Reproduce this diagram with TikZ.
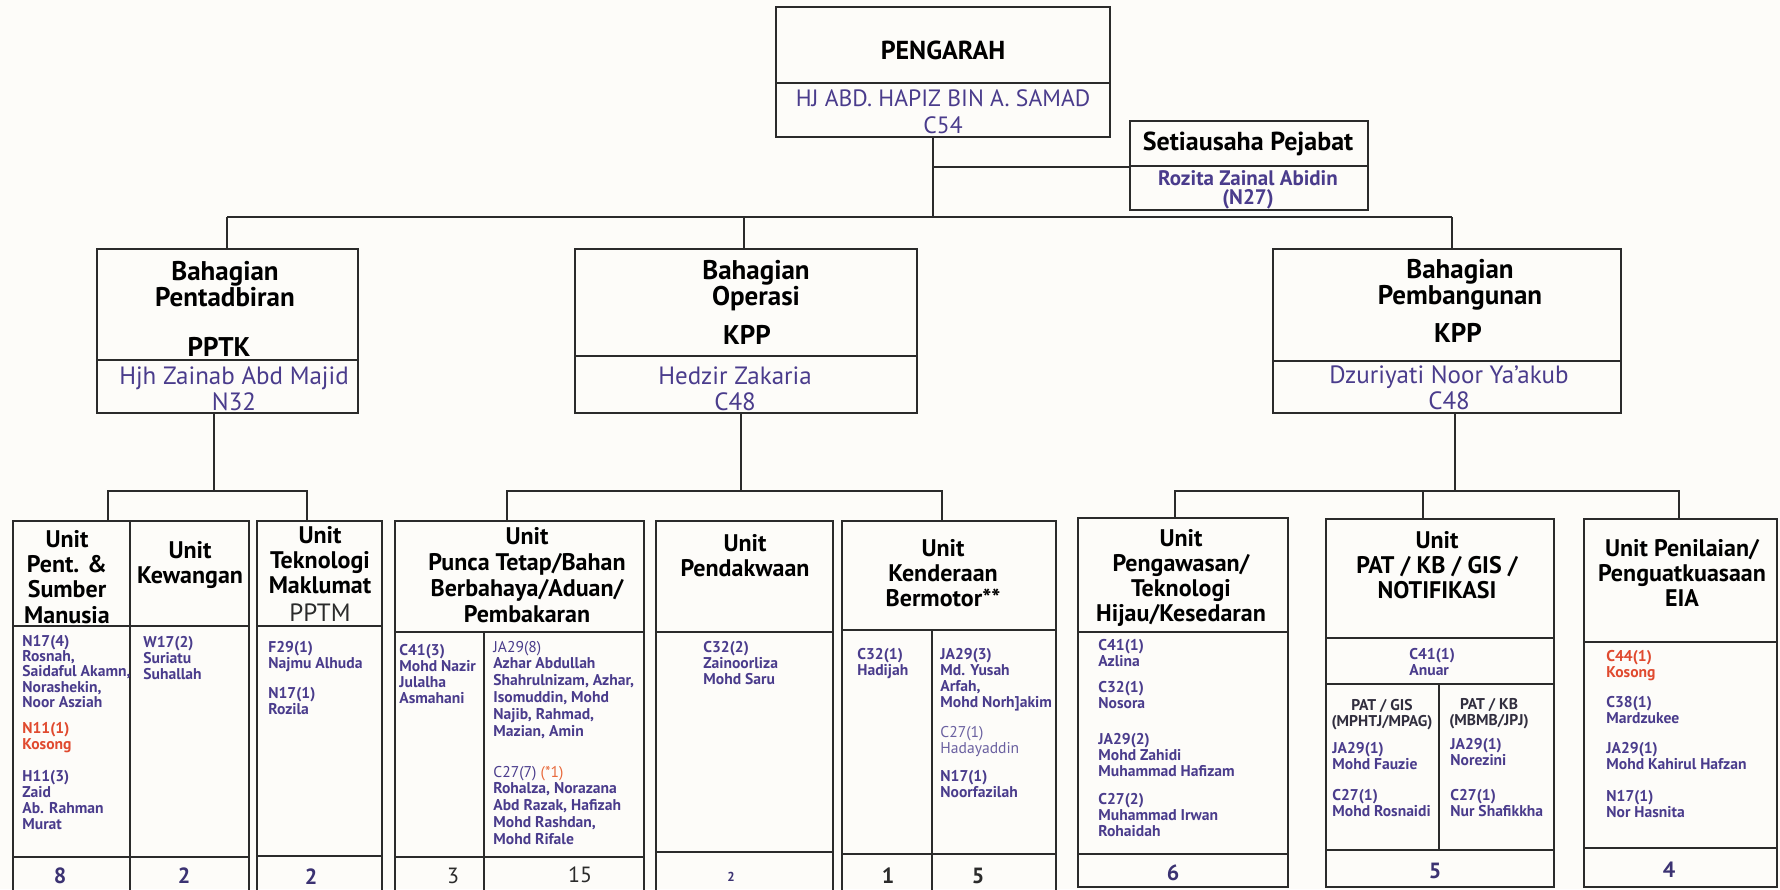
\documentclass[tikz,border=0pt]{standalone}
\usepackage{fontspec}
\setmainfont{PT Sans}
\usetikzlibrary{fit}
\definecolor{ink}{HTML}{2B2B2B}
\definecolor{nm}{HTML}{4A3C8C}
\definecolor{nmlt}{HTML}{6A60A0}
\definecolor{rd}{HTML}{E04A2F}
\definecolor{orng}{HTML}{E8683A}
\definecolor{bg}{HTML}{FDFCF9}
\definecolor{cnt}{HTML}{3B3272}
\tikzset{
  box/.style={draw=ink, line width=1pt, inner sep=0pt, fit={#1}},
  conn/.style={draw=ink, line width=0.9pt},
  div/.style={draw=ink, line width=0.8pt},
  bh/.style={font=\fontsize{13.5}{13}\selectfont\bfseries, text=black, align=center, inner sep=0pt},
  nmst/.style={font=\fontsize{12.5}{13}\selectfont, text=nm, align=center, inner sep=0pt},
  hd/.style={font=\fontsize{12}{12.6}\selectfont\bfseries, text=black, align=center, inner sep=0pt},
  bd/.style={font=\fontsize{7.8}{8}\selectfont\bfseries, text=nm, align=left, inner sep=0pt, anchor=north west},
  bdr/.style={font=\fontsize{7.8}{8}\selectfont, text=nmlt, align=left, inner sep=0pt, anchor=north west},
  ct/.style={font=\fontsize{11}{12}\selectfont\bfseries, text=cnt, inner sep=0pt},
}
\begin{document}
\begin{tikzpicture}[x=0.5pt,y=-0.5pt]
\path[use as bounding box, fill=bg] (0,0) rectangle (1780,889);
\clip (0,0) rectangle (1780,889);

% ---------- top level ----------
\node[box={(776,7) (1110,137)}] (pengarah) {};
\draw[div] (776,83) -- (1110,83);
\node[font=\fontsize{13}{14}\selectfont\bfseries, inner sep=0pt] (tpeng) at (943,50) {PENGARAH};
\node[nmst, font=\fontsize{11.8}{13.5}\selectfont] (npeng) at (943,112) {HJ ABD. HAPIZ BIN A. SAMAD\\C54};

\node[box={(1130,121) (1368,210)}] (setia) {};
\draw[div] (1130,166) -- (1368,166);
\node[font=\fontsize{13}{14}\selectfont\bfseries, inner sep=0pt] (tsetia) at (1248,144) {Setiausaha Pejabat};
\node[nmst, font=\fontsize{10.5}{9.3}\selectfont\bfseries] (nsetia) at (1248,190) {Rozita Zainal Abidin\\(N27)};

% ---------- bahagian ----------
\node[box={(97,249) (358,413)}] (pent) {};
\draw[div] (97,360) -- (358,360);
\node[bh] (tpent) at (225,284) {Bahagian\\Pentadbiran};
\node[bh] (kpent) at (219,347) {PPTK};
\node[nmst] (npent) at (234,389) {Hjh Zainab Abd Majid\\N32};

\node[box={(575,249) (917,413)}] (ops) {};
\draw[div] (575,356) -- (917,356);
\node[bh] (tops) at (756,286) {Bahagian\\Operasi};
\node[bh] (kops) at (747,335) {KPP};
\node[nmst] (nops) at (735,389) {Hedzir Zakaria\\C48};

\node[box={(1273,249) (1621,413)}] (pemb) {};
\draw[div] (1273,361) -- (1621,361);
\node[bh] (tpemb) at (1460,285) {Bahagian\\Pembangunan};
\node[bh] (kpemb) at (1458,333) {KPP};
\node[nmst] (npemb) at (1449,388) {Dzuriyati Noor Ya’akub\\C48};

% ---------- connectors top ----------
\coordinate (tp) at (933,217);
\coordinate (ts) at (933,167);
\coordinate (b1) at (227,217);
\coordinate (b2) at (744,217);
\coordinate (b3) at (1452,217);
\draw[conn] (pengarah.south -| tp) -- (tp);
\draw[conn] (ts) -- (ts -| setia.west);
\draw[conn] (b1) -- (b3);
\draw[conn] (b1) -- (b1 |- pent.north);
\draw[conn] (b2) -- (b2 |- ops.north);
\draw[conn] (b3) -- (b3 |- pemb.north);

% ---------- units ----------
\node[box={(13,521) (130,895)}] (upent) {};
\node[box={(130,521) (249,895)}] (ukew) {};
\draw[div] (13,626) -- (249,626);
\draw[div] (13,857) -- (249,857);
\node[box={(257,521) (382,895)}] (utek) {};
\draw[div] (257,626) -- (382,626);
\draw[div] (257,856) -- (382,856);

\node[box={(395,521) (644,895)}] (upunca) {};
\draw[div] (395,632) -- (644,632);
\draw[div] (395,857) -- (644,857);
\draw[div] (484,632) -- (484,895);
\node[box={(656,521) (833,895)}] (updk) {};
\draw[div] (656,632) -- (833,632);
\draw[div] (656,852) -- (833,852);
\node[box={(842,521) (1056,895)}] (uken) {};
\draw[div] (842,630) -- (1056,630);
\draw[div] (842,854) -- (1056,854);
\draw[div] (932,630) -- (932,895);

\node[box={(1078,518) (1288,887)}] (upeng) {};
\draw[div] (1078,632) -- (1288,632);
\draw[div] (1078,854) -- (1288,854);
\node[box={(1326,519) (1554,887)}] (upat) {};
\draw[div] (1326,638) -- (1554,638);
\draw[div] (1326,684) -- (1554,684);
\draw[div] (1326,850) -- (1554,850);
\draw[div] (1439,684) -- (1439,850);
\node[box={(1584,519) (1777,887)}] (ueia) {};
\draw[div] (1584,642) -- (1777,642);
\draw[div] (1584,848) -- (1777,848);

% ---------- connectors bottom ----------
\coordinate (a0) at (214,491);
\coordinate (a1) at (108,491);
\coordinate (a2) at (307,491);
\draw[conn] (a0 |- pent.south) -- (a0);
\draw[conn] (a1 |- upent.north) |- (a2) -- (a2 |- utek.north);
\coordinate (o0) at (741,491);
\coordinate (o1) at (507,491);
\coordinate (o2) at (942,491);
\draw[conn] (o0 |- ops.south) -- (o0);
\draw[conn] (o1 |- upunca.north) |- (o2) -- (o2 |- uken.north);
\coordinate (p0) at (1455,491);
\coordinate (p1) at (1175,491);
\coordinate (p2) at (1423,491);
\coordinate (p3) at (1679,491);
\draw[conn] (p0 |- pemb.south) -- (p0);
\draw[conn] (p1 |- upeng.north) |- (p3) -- (p3 |- ueia.north);
\draw[conn] (p2) -- (p2 |- upat.north);

% ---------- unit headers ----------
\node[hd] (hpent) at (67,577) {Unit\\Pent. \&\\Sumber\\Manusia};
\node[hd] (hkew) at (190,565) {Unit\\Kewangan};
\node[hd] (htek) at (320,560) {Unit\\Teknologi\\Maklumat};
\node[font=\fontsize{12.5}{13}\selectfont, text=ink, inner sep=0pt] (htek2) at (320,613) {PPTM};
\node[hd, font=\fontsize{12}{12.9}\selectfont\bfseries] (hpunca) at (527,575) {Unit\\Punca Tetap/Bahan\\Berbahaya/Aduan/\\Pembakaran};
\node[hd] (hpdk) at (745,556) {Unit\\Pendakwaan};
\node[hd] (hken) at (943,573) {Unit\\Kenderaan\\Bermotor**};
\node[hd] (hpeng) at (1181,578) {Unit\\Pengawasan/\\Teknologi\\Hijau/Kesedaran};
\node[hd] (hpat) at (1437,565) {Unit\\PAT / KB / GIS /\\NOTIFIKASI};
\node[hd] (heia) at (1682,573) {Unit Penilaian/\\Penguatkuasaan\\EIA};

% ---------- unit bodies ----------
\node[bd, font=\fontsize{7.8}{7.7}\selectfont\bfseries] (b01) at (22,634.5) {N17(4)\\Rosnah,\\Saidaful Akamn,\\Norashekin,\\Noor Asziah};
\node[bd, text=rd] (b02) at (22,721.5) {N11(1)\\Kosong};
\node[bd] (b03) at (22,769.5) {H11(3)\\Zaid\\Ab. Rahman\\Murat};
\node[bd] (b04) at (143,635.5) {W17(2)\\Suriatu\\Suhallah};
\node[bd] (b05) at (268,640.5) {F29(1)\\Najmu Alhuda};
\node[bd] (b06) at (268,686.5) {N17(1)\\Rozila};
\node[bd] (b07) at (399,643.5) {C41(3)\\Mohd Nazir\\Julalha\\Asmahani};
\node[bd, font=\fontsize{7.8}{8.4}\selectfont\bfseries] (b08) at (493,640.5) {{\mdseries JA29(8)}\\Azhar Abdullah\\Shahrulnizam, Azhar,\\Isomuddin, Mohd\\Najib, Rahmad,\\Mazian, Amin};
\node[bd, font=\fontsize{7.8}{8.4}\selectfont\bfseries] (b09) at (493,765.5) {{\mdseries C27(7) \textcolor{orng}{(*1)}}\\Rohalza, Norazana\\Abd Razak, Hafizah\\Mohd Rashdan,\\Mohd Rifale};
\node[bd] (b10) at (703,640.5) {C32(2)\\Zainoorliza\\Mohd Saru};
\node[bd] (b11) at (857,647.5) {C32(1)\\Hadijah};
\node[bd] (b12) at (940,647.5) {JA29(3)\\Md. Yusah\\Arfah,\\Mohd Norh]akim};
\node[bdr] (b13) at (940,725.5) {C27(1)\\Hadayaddin};
\node[bd] (b14) at (940,769.5) {N17(1)\\Noorfazilah};
\node[bd] (b15) at (1098,638.5) {C41(1)\\Azlina};
\node[bd] (b16) at (1098,680.5) {C32(1)\\Nosora};
\node[bd] (b17) at (1098,732.5) {JA29(2)\\Mohd Zahidi\\Muhammad Hafizam};
\node[bd] (b18) at (1098,792.5) {C27(2)\\Muhammad Irwan\\Rohaidah};
\node[bd] (b19) at (1409,647.5) {C41(1)\\Anuar};
\node[bd, align=center, anchor=center, text=ink!80!nm] (b20) at (1382,715) {PAT / GIS\\(MPHTJ/MPAG)};
\node[bd] (b21) at (1332,741.5) {JA29(1)\\Mohd Fauzie};
\node[bd] (b22) at (1332,788.5) {C27(1)\\Mohd Rosnaidi};
\node[bd, align=center, anchor=center, text=ink!80!nm] (b23) at (1489,714) {PAT / KB\\(MBMB/JPJ)};
\node[bd] (b24) at (1450,737.5) {JA29(1)\\Norezini};
\node[bd] (b25) at (1450,788.5) {C27(1)\\Nur Shafikkha};
\node[bd, text=rd] (b26) at (1606,649.5) {C44(1)\\Kosong};
\node[bd] (b27) at (1606,695.5) {C38(1)\\Mardzukee};
\node[bd] (b28) at (1606,741.5) {JA29(1)\\Mohd Kahirul Hafzan};
\node[bd] (b29) at (1606,789.5) {N17(1)\\Nor Hasnita};

% ---------- counts ----------
\node[ct] (c01) at (60,876) {8};
\node[ct] (c02) at (184,876) {2};
\node[ct] (c03) at (311,877) {2};
\node[ct, font=\fontsize{11}{12}\selectfont, text=ink] (c04) at (453,876) {3};
\node[ct, font=\fontsize{11}{12}\selectfont, text=ink] (c05) at (580,875) {15};
\node[ct, font=\fontsize{6.5}{7}\selectfont\bfseries] (c06) at (731,877) {2};
\node[ct, text=ink] (c07) at (888,876) {1};
\node[ct, text=ink] (c08) at (978,876) {5};
\node[ct] (c09) at (1173,873) {6};
\node[ct] (c10) at (1435,871) {5};
\node[ct] (c11) at (1669,870) {4};
\end{tikzpicture}
\end{document}
